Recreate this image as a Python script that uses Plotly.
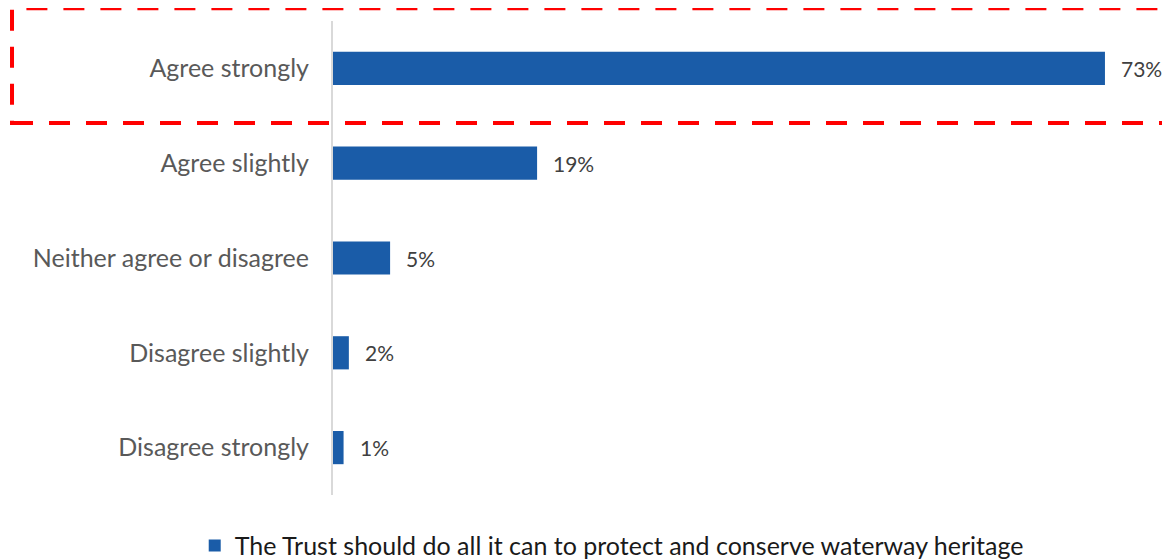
import plotly.graph_objects as go

# Survey data
categories = ["Agree strongly", "Agree slightly", "Neither agree or disagree",
              "Disagree slightly", "Disagree strongly"]
values = [73.0, 19.3, 5.4, 1.5, 1.0]
value_labels = ["73%", "19%", "5%", "2%", "1%"]
series_name = "The Trust should do all it can to protect and conserve waterway heritage"

bar_color = "#1a5ca8"
font_family = "Lato, 'Open Sans', sans-serif"

fig = go.Figure()

fig.add_trace(go.Bar(
    y=categories, x=values, orientation="h",
    name=series_name, marker_color=bar_color,
    marker_line_width=0, hoverinfo="skip",
))

# value labels to the right of each bar
for cat, val, lab in zip(categories, values, value_labels):
    fig.add_annotation(x=val, y=cat, text=lab, showarrow=False,
                       xanchor="left", xshift=14,
                       font=dict(size=21, color="#404040", family=font_family))

# red dashed highlight box round the first row
fig.add_shape(type="rect", xref="paper", yref="paper",
              x0=-0.3835, x1=1.05, y0=0.785, y1=1.027,
              line=dict(color="#ff0000", width=4, dash="21px,16px"),
              fillcolor="rgba(0,0,0,0)")

fig.update_layout(
    width=1162, height=551,
    margin=dict(l=325, r=0, t=13, b=64),
    paper_bgcolor="white", plot_bgcolor="white",
    bargap=0.65,
    font=dict(family=font_family, size=25, color="#595959"),
    showlegend=True,
    legend=dict(orientation="h", x=0.333, xanchor="center",
                yref="container", y=0.024, yanchor="middle",
                font=dict(size=25, color="#1a1a1a")),
    xaxis=dict(range=[0, 79.15], visible=False, fixedrange=True),
    yaxis=dict(categoryorder="array", categoryarray=categories[::-1],
               showline=True, linecolor="#d9d9d9", linewidth=2,
               showgrid=False, ticks="", ticklabelstandoff=17,
               tickfont=dict(size=25, color="#595959"), fixedrange=True),
)

fig.write_html("out.html")
